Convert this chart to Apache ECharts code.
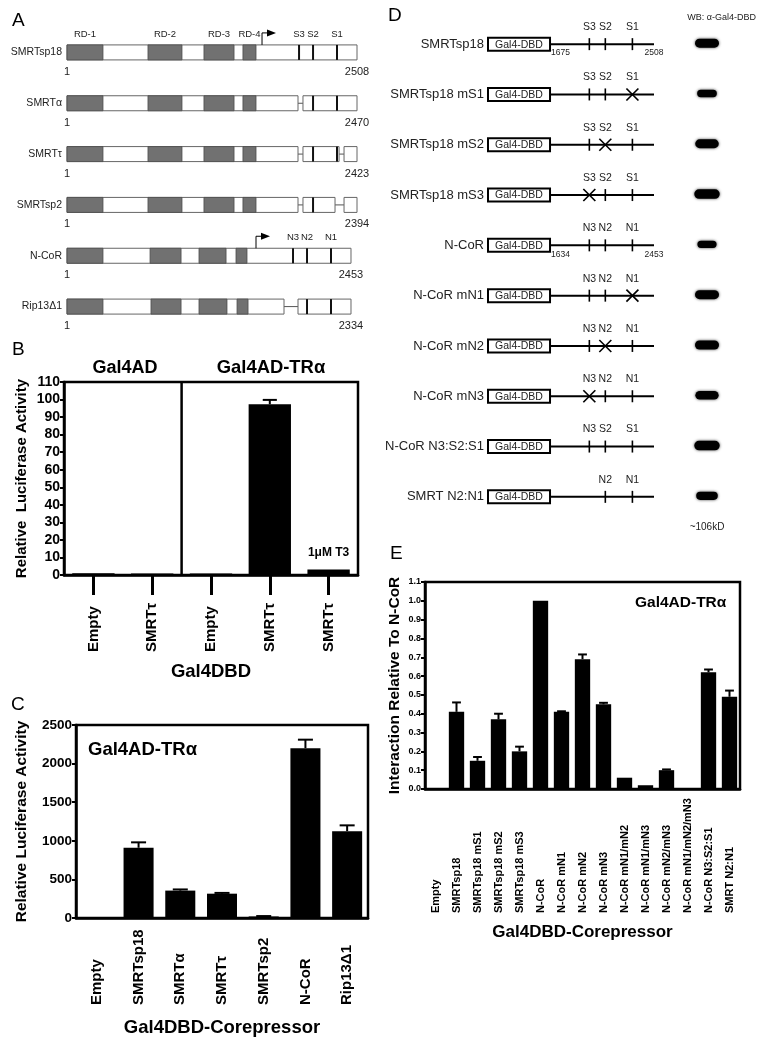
<!DOCTYPE html>
<html><head><meta charset="utf-8">
<script src="https://cdn.jsdelivr.net/npm/echarts@6/dist/echarts.min.js"></script>
<style>html,body{margin:0;padding:0;background:#fff}#c{width:759px;height:1050px}</style>
</head><body><div id="c"></div>
<script>
// ---------------- Panel A: domain maps (schematic residue units) ----------------
const aNames = ['SMRTsp18', 'SMRTα', 'SMRTτ', 'SMRTsp2', 'N-CoR', 'Rip13Δ1'];
const aLengths = ['2508', '2470', '2423', '2394', '2453', '2334'];
const aSegments = [
  [[1, 2508]],
  [[1, 1998], [2041, 2508]],
  [[1, 1998], [2041, 2353], [2396, 2508]],
  [[1, 1998], [2041, 2318], [2396, 2508]],
  [[1, 2456]],
  [[1, 1877], [1998, 2456]]
];
const smrtRD = [[1, 312], [701, 995], [1185, 1445], [1522, 1635]];
const aDomains = [
  smrtRD, smrtRD, smrtRD, smrtRD,
  [[1, 312], [719, 987], [1142, 1376], [1462, 1557]],
  [[1, 312], [727, 987], [1142, 1384], [1471, 1566]]
];
const aDomainLabels = ['RD-1', 'RD-2', 'RD-3', 'RD-4'];
const aDomainLabelRow = 0;
const aSites = [
  [2007, 2128, 2335],
  [2128, 2335],
  [2128, 2335],
  [2128],
  [1955, 2076, 2283],
  [2076, 2283]
];
const aSiteLabels = [['S3', 'S2', 'S1'], null, null, null, ['N3', 'N2', 'N1'], null];
const aArrow = [1687, null, null, null, 1635, null];

// ---------------- Panel B ----------------
const bCats = ['Empty', 'SMRTτ', 'Empty', 'SMRTτ', 'SMRTτ'];
const bValues = [1.0, 0.8, 0.8, 97.3, 3.2];
const bErrors = [0, 0, 0, 2.5, 0];
const bNotes = ['', '', '', '', '1μM T3'];
const bGroups = ['Gal4AD', 'Gal4AD-TRα'];
const bGroupSplit = 2;

// ---------------- Panel C ----------------
const cCats = ['Empty', 'SMRTsp18', 'SMRTα', 'SMRTτ', 'SMRTsp2', 'N-CoR', 'Rip13Δ1'];
const cValues = [0, 910, 355, 315, 20, 2200, 1125];
const cErrors = [0, 70, 15, 10, 5, 110, 75];

// ---------------- Panel D ----------------
const dNames = ['SMRTsp18', 'SMRTsp18 mS1', 'SMRTsp18 mS2', 'SMRTsp18 mS3', 'N-CoR',
  'N-CoR mN1', 'N-CoR mN2', 'N-CoR mN3', 'N-CoR N3:S2:S1', 'SMRT N2:N1'];
const dStart = 1675, dEnd = 2508;
const dSites = [1990, 2118, 2335];
const dSiteLabels = [
  ['S3', 'S2', 'S1'], ['S3', 'S2', 'S1'], ['S3', 'S2', 'S1'], ['S3', 'S2', 'S1'],
  ['N3', 'N2', 'N1'], ['N3', 'N2', 'N1'], ['N3', 'N2', 'N1'], ['N3', 'N2', 'N1'],
  ['N3', 'S2', 'S1'], [null, 'N2', 'N1']
];
const dMutated = [-1, 2, 1, 0, -1, 2, 1, 0, -1, -1];
const dRangeLabels = [['1675', '2508'], null, null, null, ['1634', '2453'], null, null, null, null, null];
const wbBand = [1.0, 0.82, 0.98, 1.06, 0.8, 1.0, 1.0, 0.97, 1.06, 0.9];

// ---------------- Panel E ----------------
const eCats = ['Empty', 'SMRTsp18', 'SMRTsp18 mS1', 'SMRTsp18 mS2', 'SMRTsp18 mS3', 'N-CoR',
  'N-CoR mN1', 'N-CoR mN2', 'N-CoR mN3', 'N-CoR mN1/mN2', 'N-CoR mN1/mN3', 'N-CoR mN2/mN3',
  'N-CoR mN1/mN2/mN3', 'N-CoR N3:S2:S1', 'SMRT N2:N1'];
const eValues = [0, 0.41, 0.15, 0.37, 0.20, 1.0, 0.41, 0.69, 0.45, 0.06, 0.02, 0.10, 0, 0.62, 0.49];
const eErrors = [0, 0.05, 0.02, 0.03, 0.025, 0, 0.003, 0.025, 0.008, 0, 0, 0.004, 0, 0.015, 0.033];

// =================================================================
const FONT = '"Liberation Sans", Arial, Helvetica, sans-serif';
const chart = echarts.init(document.getElementById('c'));

function txt(text, x, y, size, opts) {
  return Object.assign({
    type: 'text', x: x, y: y,
    style: Object.assign({
      text: text, fill: '#222', fontSize: size, fontFamily: FONT,
      align: 'center', verticalAlign: 'middle'
    }, (opts && opts.style) || {})
  }, opts ? { z: opts.z } : {});
}

function renderA(params, api) {
  const i = params.dataIndex;
  const px = x => api.coord([x, i])[0];
  const yC = api.coord([1, i])[1];
  const H = 15, top = yC - H / 2;
  const ch = [];
  const segs = aSegments[i];
  for (let k = 1; k < segs.length; k++) {
    ch.push({ type: 'line', shape: { x1: px(segs[k - 1][1]), y1: yC, x2: px(segs[k][0]), y2: yC },
      style: { stroke: '#555', lineWidth: 1 } });
  }
  segs.forEach(s => ch.push({ type: 'rect',
    shape: { x: px(s[0]), y: top, width: px(s[1]) - px(s[0]), height: H },
    style: { fill: '#fff', stroke: '#666', lineWidth: 1 } }));
  aDomains[i].forEach(d => ch.push({ type: 'rect',
    shape: { x: px(d[0]), y: top, width: px(d[1]) - px(d[0]), height: H },
    style: { fill: '#717171', stroke: '#4d4d4d', lineWidth: 0.8 } }));
  aSites[i].forEach(s => ch.push({ type: 'line',
    shape: { x1: px(s), y1: top, x2: px(s), y2: top + H },
    style: { stroke: '#111', lineWidth: 2 } }));
  if (aArrow[i] != null) {
    const ax = px(aArrow[i]);
    ch.push({ type: 'polyline', shape: { points: [[ax, top], [ax, top - 12], [ax + 8, top - 12]] },
      style: { stroke: '#000', lineWidth: 1, fill: null } });
    ch.push({ type: 'polygon', shape: { points: [[ax + 5, top - 15.5], [ax + 14, top - 12], [ax + 5, top - 8.5]] },
      style: { fill: '#000' } });
  }
  if (aSiteLabels[i]) {
    aSiteLabels[i].forEach((lab, k) => ch.push(txt(lab, px(aSites[i][k]), yC - 18, 9.5)));
  }
  if (i === aDomainLabelRow) {
    aDomains[i].forEach((d, k) => ch.push(txt(aDomainLabels[k], (px(d[0]) + px(d[1])) / 2, yC - 18, 9.5)));
  }
  ch.push(txt('1', px(segs[0][0]), yC + 19.5, 11));
  ch.push(txt(aLengths[i], px(segs[segs.length - 1][1]), yC + 19.5, 11));
  return { type: 'group', children: ch };
}

function renderD(params, api) {
  const i = params.dataIndex;
  const cs = params.coordSys;
  const ps = api.coord([dStart, i]);
  const yC = ps[1], xs = ps[0], xe = api.coord([dEnd, i])[0];
  const x0 = cs.x;
  const ch = [];
  ch.push({ type: 'line', shape: { x1: xs, y1: yC, x2: xe, y2: yC }, style: { stroke: '#000', lineWidth: 2 } });
  ch.push({ type: 'rect', shape: { x: x0 + 1, y: yC - 6.5, width: xs - x0 - 1, height: 13 },
    style: { fill: '#fff', stroke: '#000', lineWidth: 2 } });
  ch.push(txt('Gal4-DBD', (x0 + xs) / 2 + 0.5, yC + 0.5, 10.5));
  dSiteLabels[i].forEach((lab, k) => {
    if (lab == null) return;
    const x = api.coord([dSites[k], i])[0];
    if (dMutated[i] === k) {
      ch.push({ type: 'line', shape: { x1: x - 6, y1: yC - 6, x2: x + 6, y2: yC + 6 }, style: { stroke: '#000', lineWidth: 1.6 } });
      ch.push({ type: 'line', shape: { x1: x - 6, y1: yC + 6, x2: x + 6, y2: yC - 6 }, style: { stroke: '#000', lineWidth: 1.6 } });
    } else {
      ch.push({ type: 'line', shape: { x1: x, y1: yC - 6, x2: x, y2: yC + 6 }, style: { stroke: '#000', lineWidth: 1.6 } });
    }
    ch.push(txt(lab, x, yC - 17, 10.5));
  });
  if (dRangeLabels[i]) {
    ch.push(txt(dRangeLabels[i][0], xs + 1, yC + 9, 8.5, { style: { align: 'left' } }));
    ch.push(txt(dRangeLabels[i][1], xe, yC + 9, 8.5));
  }
  return { type: 'group', children: ch };
}

function renderWB(params, api) {
  const i = params.dataIndex;
  const c = api.coord([0, i]);
  const s = api.value(2);
  const w = 24 * s, h = 9 * Math.min(1.1, s);
  return { type: 'rect', shape: { x: c[0] - w / 2, y: c[1] - 1 - h / 2, width: w, height: h, r: h / 2 },
    style: { fill: '#000', shadowBlur: 3, shadowColor: 'rgba(0,0,0,0.75)' } };
}

function errSeries(ax, values, errors, capFrac) {
  return {
    type: 'custom', xAxisIndex: ax, yAxisIndex: ax, z: 1, clip: false,
    data: values.map((v, i) => [i, v, errors[i]]),
    encode: { x: 0, y: 1 },
    renderItem: (params, api) => {
      const i = api.value(0), v = api.value(1), e = api.value(2);
      if (!e) return null;
      const p0 = api.coord([i, v]), p1 = api.coord([i, v + e]);
      const cw = api.size([1, 0])[0] * capFrac;
      return { type: 'group', children: [
        { type: 'line', shape: { x1: p0[0], y1: p0[1], x2: p1[0], y2: p1[1] }, style: { stroke: '#000', lineWidth: 2 } },
        { type: 'line', shape: { x1: p1[0] - cw / 2, y1: p1[1], x2: p1[0] + cw / 2, y2: p1[1] }, style: { stroke: '#000', lineWidth: 2 } }
      ] };
    }
  };
}

function barXAxis(grid, cats, fontSize, margin, name, nameGap, nameSize, ticks) {
  return {
    type: 'category', gridIndex: grid, data: cats,
    axisLine: { show: true, lineStyle: { color: '#000', width: 2.5 } },
    axisTick: ticks ? { show: true, alignWithLabel: true, length: 20, lineStyle: { color: '#000', width: 3 } } : { show: false },
    axisLabel: { interval: 0, rotate: 90, align: 'left', verticalAlign: 'middle', margin: margin,
      color: '#000', fontWeight: 'bold', fontSize: fontSize, fontFamily: FONT },
    splitLine: { show: false },
    name: name, nameLocation: 'middle', nameGap: nameGap,
    nameTextStyle: { color: '#000', fontWeight: 'bold', fontSize: nameSize, fontFamily: FONT }
  };
}
function barYAxis(grid, min, max, interval, fontSize, name, nameGap, nameSize, fmt) {
  return {
    type: 'value', gridIndex: grid, min: min, max: max, interval: interval,
    axisLine: { show: true, lineStyle: { color: '#000', width: 2.5 } },
    axisTick: { show: true, length: 4, lineStyle: { color: '#000', width: 2 } },
    axisLabel: { color: '#000', fontWeight: 'bold', fontSize: fontSize, fontFamily: FONT, margin: 4, formatter: fmt },
    splitLine: { show: false },
    name: name, nameLocation: 'middle', nameGap: nameGap,
    nameTextStyle: { color: '#000', fontWeight: 'bold', fontSize: nameSize, fontFamily: FONT }
  };
}
const hiddenCat = (grid, data, inverse) => ({ type: 'category', gridIndex: grid, data: data, inverse: inverse, show: false });
const plain = v => String(v);

const gridBase = { outerBoundsMode: 'none', containLabel: false };
const framed = { show: true, borderColor: '#000', borderWidth: 2.5, backgroundColor: 'transparent' };

const option = {
  backgroundColor: '#fff',
  animation: false,
  grid: [
    Object.assign({ left: 67, top: 27, width: 290, height: 305 }, gridBase),
    Object.assign({ left: 64, top: 382, width: 294, height: 193 }, gridBase, framed),
    Object.assign({ left: 76, top: 725, width: 292, height: 193 }, gridBase, framed),
    Object.assign({ left: 487, top: 19, width: 167, height: 503 }, gridBase),
    Object.assign({ left: 690, top: 19, width: 34, height: 503 }, gridBase),
    Object.assign({ left: 425, top: 582, width: 315, height: 207 }, gridBase, framed)
  ],
  xAxis: [
    { type: 'value', gridIndex: 0, min: 1, max: 2508, show: false },
    barXAxis(1, bCats, 15, 77, 'Gal4DBD', 87, 18.5, true),
    barXAxis(2, cCats, 15, 87, 'Gal4DBD-Corepressor', 100, 18.5, false),
    { type: 'value', gridIndex: 3, min: 1170, max: 2508, show: false },
    hiddenCat(4, ['α-Gal4-DBD'], false),
    barXAxis(5, eCats, 11, 124, 'Gal4DBD-Corepressor', 135, 17, false)
  ],
  yAxis: [
    { type: 'category', gridIndex: 0, data: aNames, inverse: true,
      axisLine: { show: false }, axisTick: { show: false }, splitLine: { show: false },
      axisLabel: { color: '#222', fontSize: 10.5, fontFamily: FONT, margin: 5 } },
    barYAxis(1, 0, 110, 10, 14, 'Relative  Luciferase Activity', 35, 15, plain),
    barYAxis(2, 0, 2500, 500, 13.5, 'Relative Luciferase Activity', 46, 15.5, plain),
    { type: 'category', gridIndex: 3, data: dNames, inverse: true,
      axisLine: { show: false }, axisTick: { show: false }, splitLine: { show: false },
      axisLabel: { color: '#222', fontSize: 13, fontFamily: FONT, margin: 3 } },
    hiddenCat(4, dNames, true),
    barYAxis(5, 0, 1.1, 0.1, 9, 'Interaction Relative To N-CoR', 22, 15.5, v => v.toFixed(1))
  ],
  series: [
    { type: 'custom', xAxisIndex: 0, yAxisIndex: 0, clip: false,
      data: aNames.map((n, i) => [1, i]), encode: { x: 0, y: 1 }, renderItem: renderA },
    { type: 'bar', xAxisIndex: 1, yAxisIndex: 1, data: bValues, barWidth: '72%', z: 2,
      itemStyle: { color: '#000' },
      label: { show: true, position: 'top', distance: 11, formatter: p => bNotes[p.dataIndex],
        color: '#000', fontWeight: 'bold', fontSize: 12, fontFamily: FONT } },
    errSeries(1, bValues, bErrors, 0.24),
    { type: 'custom', xAxisIndex: 1, yAxisIndex: 1, clip: false, data: [[bGroupSplit, 0]], encode: { x: 0, y: 1 },
      renderItem: (params, api) => {
        const k = api.value(0);
        const c = api.coord([k, 0]);
        const bx = c[0] - api.size([1, 0])[0] / 2;
        const cs = params.coordSys;
        return { type: 'line', shape: { x1: bx, y1: cs.y, x2: bx, y2: cs.y + cs.height }, style: { stroke: '#000', lineWidth: 2.5 } };
      } },
    { type: 'bar', xAxisIndex: 2, yAxisIndex: 2, data: cValues, barWidth: '72%', itemStyle: { color: '#000' }, z: 2 },
    errSeries(2, cValues, cErrors, 0.36),
    { type: 'custom', xAxisIndex: 3, yAxisIndex: 3, clip: false,
      data: dNames.map((n, i) => [dStart, i]), encode: { x: 0, y: 1 }, renderItem: renderD },
    { type: 'custom', xAxisIndex: 4, yAxisIndex: 4, clip: false,
      data: wbBand.map((s, i) => [0, i, s]), encode: { x: 0, y: 1 }, renderItem: renderWB },
    { type: 'bar', xAxisIndex: 5, yAxisIndex: 5, data: eValues, barWidth: '73%', itemStyle: { color: '#000' }, z: 2 },
    errSeries(5, eValues, eErrors, 0.42)
  ],
  graphic: [
    txt('A', 12, 21, 19, { style: { align: 'left', fill: '#000' } }),
    txt('B', 12, 350, 19, { style: { align: 'left', fill: '#000' } }),
    txt('C', 11, 705, 19, { style: { align: 'left', fill: '#000' } }),
    txt('D', 388, 16, 19, { style: { align: 'left', fill: '#000' } }),
    txt('E', 390, 554, 19, { style: { align: 'left', fill: '#000' } }),
    txt(bGroups[0], 125, 368, 18, { style: { fill: '#000', fontWeight: 'bold' } }),
    txt(bGroups[1], 271, 368, 18.4, { style: { fill: '#000', fontWeight: 'bold' } }),
    txt('Gal4AD-TRα', 88, 750, 18.5, { style: { align: 'left', fill: '#000', fontWeight: 'bold' } }),
    txt('Gal4AD-TRα', 635, 603, 15.5, { style: { align: 'left', fill: '#000', fontWeight: 'bold' } }),
    txt('WB: α-Gal4-DBD', 756, 18, 9, { style: { align: 'right', fill: '#222' } }),
    txt('~106kD', 707, 527, 10, { style: { fill: '#222' } })
  ]
};
chart.setOption(option);
</script>
</body></html>
